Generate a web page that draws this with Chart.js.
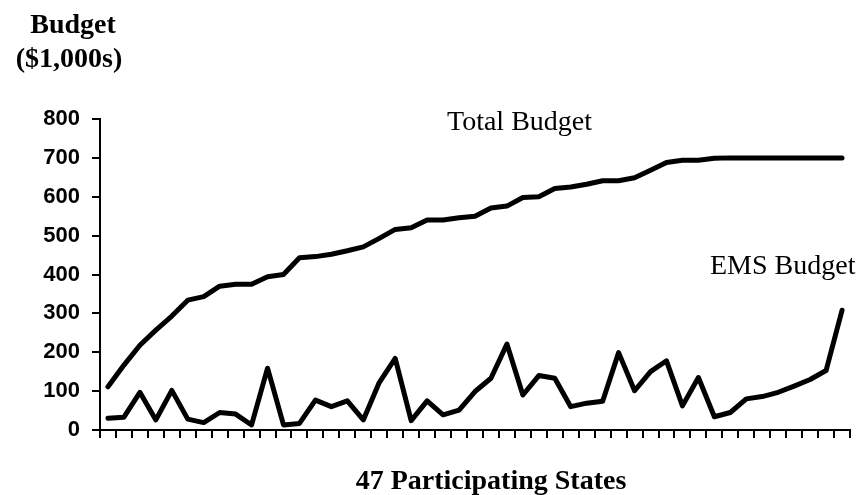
<!DOCTYPE html>
<html>
<head>
<meta charset="utf-8">
<script src="https://cdn.jsdelivr.net/npm/chart.js@4/dist/chart.umd.min.js"></script>
<style>
  html, body { margin: 0; padding: 0; background: #ffffff; }
  #wrap { width: 864px; height: 495px; }
</style>
</head>
<body>
<div id="wrap"><canvas id="budgetChart" width="864" height="495"></canvas></div>
<script>
  "use strict";

  // 47 participating states (unlabelled on the axis)
  var states = [];
  for (var s = 1; s <= 47; s++) { states.push('State ' + s); }

  // Values in $1,000s
  var totalBudget = [111, 167, 218, 257, 293, 334, 343, 370, 375, 375,
                     394, 400, 443, 446, 452, 461, 471, 493, 516, 520,
                     540, 540, 546, 550, 571, 576, 598, 600, 621, 625,
                     632, 641, 641, 649, 668, 688, 694, 694, 699, 700,
                     700, 700, 700, 700, 700, 700, 700];
  var emsBudget = [30, 33, 97, 26, 102, 28, 19, 45, 41, 13,
                   159, 13, 17, 77, 60, 75, 26, 122, 184, 24,
                   75, 39, 51, 99, 133, 221, 90, 140, 133, 60,
                   69, 74, 199, 101, 150, 178, 62, 135, 34, 45,
                   80, 86, 97, 113, 130, 153, 308];
  var yTicks = [0, 100, 200, 300, 400, 500, 600, 700, 800];

  var serif = '"Liberation Serif", "Times New Roman", serif';
  var sans = '"Liberation Sans", Arial, sans-serif';

  // Free-standing labels: axis captions and series names
  var textLabels = {
    id: 'textLabels',
    afterDraw: function (chart) {
      var ctx = chart.ctx;
      ctx.save();
      ctx.fillStyle = '#000000';
      ctx.textBaseline = 'alphabetic';

      ctx.font = 'bold 28px ' + serif;
      ctx.textAlign = 'center';
      ctx.fillText('Budget', 73, 33);
      ctx.fillText('($1,000s)', 69, 67);
      ctx.fillText('47 Participating States', 491, 489);

      ctx.font = '28px ' + serif;
      ctx.textAlign = 'left';
      ctx.fillText('Total Budget', 447, 130);
      ctx.fillText('EMS Budget', 710, 274);
      ctx.restore();
    }
  };

  var lineStyle = {
    borderColor: '#000000',
    backgroundColor: '#000000',
    borderWidth: 5,
    pointRadius: 0,
    tension: 0,
    borderJoinStyle: 'round',
    borderCapStyle: 'round',
    fill: false
  };

  var ctx = document.getElementById('budgetChart').getContext('2d');
  var budgetChart = new Chart(ctx, {
    type: 'line',
    data: {
      labels: states,
      datasets: [
        Object.assign({ label: 'Total Budget', data: totalBudget }, lineStyle),
        Object.assign({ label: 'EMS Budget', data: emsBudget }, lineStyle)
      ]
    },
    options: {
      responsive: false,
      animation: false,
      devicePixelRatio: 1,
      layout: { padding: { top: 119, right: 14, bottom: 0, left: 0 } },
      plugins: {
        legend: { display: false },
        title: { display: false },
        tooltip: { enabled: false }
      },
      scales: {
        x: {
          type: 'category',
          offset: true,
          grid: {
            offset: true,
            drawOnChartArea: false,
            drawTicks: true,
            tickLength: 8,
            color: '#000000',
            lineWidth: 2
          },
          border: { display: true, color: '#000000', width: 2 },
          ticks: { display: false },
          afterFit: function (scale) { scale.height = 65; }
        },
        y: {
          min: 0,
          max: 800,
          grid: {
            drawOnChartArea: false,
            drawTicks: true,
            tickLength: 8,
            color: '#000000',
            lineWidth: 2
          },
          border: { display: true, color: '#000000', width: 2 },
          ticks: {
            color: '#000000',
            padding: 12,
            font: { family: sans, size: 22, weight: 'bold' }
          },
          afterBuildTicks: function (scale) {
            scale.ticks = yTicks.map(function (v) { return { value: v }; });
          },
          afterFit: function (scale) { scale.width = 100; }
        }
      }
    },
    plugins: [textLabels]
  });
</script>
</body>
</html>
